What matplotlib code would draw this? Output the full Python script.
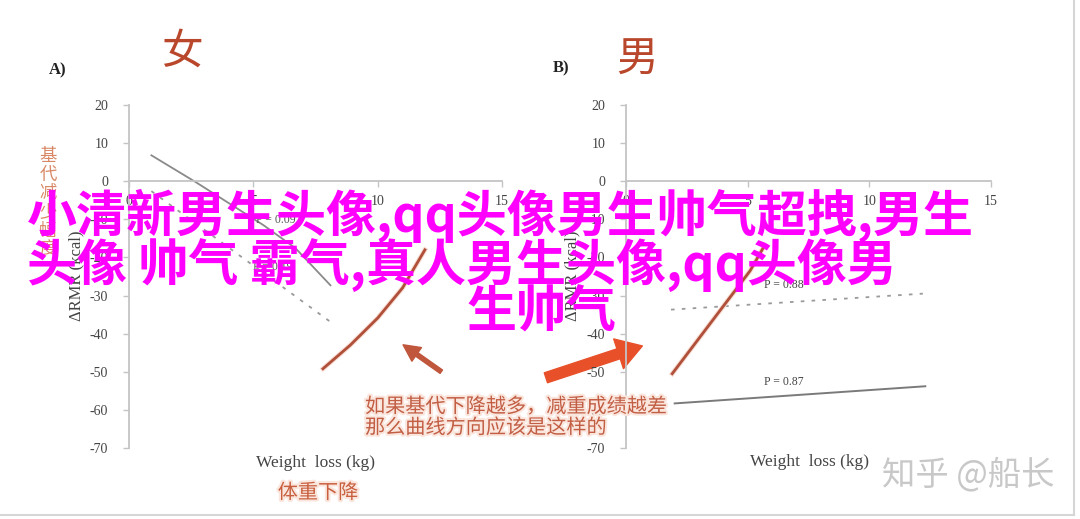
import matplotlib
matplotlib.use("Agg")
import matplotlib.pyplot as plt
from matplotlib.patches import FancyArrowPatch
from matplotlib.lines import Line2D
import matplotlib.patheffects as pe

# ---------------- data ----------------
x_ticks = [0, 5, 10, 15]
x_tick_labels = ["0", "5", "10", "15"]
y_ticks = [20, 10, 0, -10, -20, -30, -40, -50, -60, -70]
y_tick_labels = ["20", "10", "0", "-10", "-20", "-30", "-40", "-50", "-60", "-70"]

a_solid_x = [0.9, 2.7, 5.4, 6.7, 8.1]
a_solid_y = [6.8, -0.3, -11.5, -17.6, -27.3]
a_dot_x = [0.9, 8.1]
a_dot_y = [-2.6, -36.9]
a_red_x = [7.8, 8.9, 10.0, 11.0, 11.9]
a_red_y = [-49.2, -43.0, -35.9, -28.0, -18.0]

b_dot_x = [1.85, 12.2]
b_dot_y = [-33.7, -29.5]
b_solid_x = [2.0, 12.3]
b_solid_y = [-58.3, -53.8]
b_red_x = [1.9, 5.1, 5.7]
b_red_y = [-50.5, -23.5, -16.8]

a_p_labels = ["P = 0.09", "P = 0.19"]
a_p_pos = [(5.9, -10.2), (5.8, -22.6)]
b_p_labels = ["P = 0.88", "P = 0.87"]
b_p_pos = [(6.5, -27.3), (6.5, -52.7)]

panel_labels = ["A)", "B)"]
panel_titles = ["女", "男"]
x_label = "Weight  loss (kg)"
y_label = "ΔRMR (kcal)"
vertical_note = "基代减少幅度"
x_note = "体重下降"
note_lines = ["如果基代下降越多，减重成绩越差", "那么曲线方向应该是这样的"]
overlay_lines = ["小清新男生头像,qq头像男生帅气超拽,男生",
                 "头像 帅气 霸气,真人男生头像,qq头像男",
                 "生帅气"]
watermark = "知乎 @船长"

# ---------------- figure ----------------
W, H = 1080, 519
fig = plt.figure(figsize=(W / 100, H / 100), dpi=100)
fig.patch.set_facecolor("white")

CJK = ["Noto Sans CJK SC", "DejaVu Sans"]
SERIF = ["Liberation Serif", "DejaVu Serif"]


def fx(px):
    return px / W


def fy(py):
    return 1 - py / H


def make_axes(x0, x1):
    ax = fig.add_axes([fx(x0), fy(448), fx(x1) - fx(x0), (448 - 105) / H])
    ax.set_xlim(0, 15)
    ax.set_ylim(-70, 20)
    for s in ["top", "right"]:
        ax.spines[s].set_visible(False)
    ax.spines["left"].set_position(("data", 0))
    ax.spines["bottom"].set_position(("data", 0))
    for s in ["left", "bottom"]:
        ax.spines[s].set_color("#c4c4c4")
        ax.spines[s].set_linewidth(1.3)
    ax.set_xticks(x_ticks)
    ax.set_xticklabels(x_tick_labels, family=SERIF, fontsize=10, color="#444444")
    ax.set_yticks(y_ticks)
    ax.set_yticklabels(y_tick_labels, family=SERIF, fontsize=10, color="#444444")
    ax.tick_params(axis="both", direction="out", length=4, color="#c4c4c4", width=1)
    ax.tick_params(axis="x", pad=6)
    ax.tick_params(axis="y", pad=11)
    ax.patch.set_alpha(0)
    return ax


axA = make_axes(129, 502)
axB = make_axes(626, 991)

glow = [pe.withStroke(linewidth=3.5, foreground="#f8ddd3")]

# panel A lines
axA.plot(a_solid_x, a_solid_y, color="#8a8a8a", lw=1.3)
axA.plot(a_dot_x, a_dot_y, color="#9a9a9a", lw=1.3, ls=(0, (2, 4)))
axA.plot(a_red_x, a_red_y, color="#b0503a", lw=2.0, path_effects=glow,
         solid_joinstyle="round")
for lab, (px, py) in zip(a_p_labels, a_p_pos):
    axA.text(px, py, lab, family=SERIF, fontsize=8.5, color="#555555",
             ha="center", va="center")

# panel B lines
axB.plot(b_dot_x, b_dot_y, color="#9a9a9a", lw=1.3, ls=(0, (2, 4)))
axB.plot(b_solid_x, b_solid_y, color="#7a7a7a", lw=1.4)
axB.plot(b_red_x, b_red_y, color="#b0503a", lw=2.0, path_effects=glow)
for lab, (px, py) in zip(b_p_labels, b_p_pos):
    axB.text(px, py, lab, family=SERIF, fontsize=8.5, color="#444444",
             ha="center", va="center")

# arrows
arrA = FancyArrowPatch((12.65, -50.4), (10.93, -42.5), transform=axA.transData,
                       arrowstyle="simple,head_length=1.0,head_width=1.0,tail_width=0.25",
                       mutation_scale=12, color="#c0563c", clip_on=False)
axA.add_patch(arrA)
arrB = FancyArrowPatch((-3.4, -51.8), (0.78, -43.0), transform=axB.transData,
                       arrowstyle="simple,head_length=1.2,head_width=1.5,tail_width=0.5",
                       mutation_scale=15, color="#e8502a", clip_on=False)
axB.add_patch(arrB)

# panel labels and titles
fig.text(fx(58), fy(70), panel_labels[0], family=SERIF, fontsize=12, weight="bold",
         color="#222222", ha="center", va="center")
fig.text(fx(561), fy(68), panel_labels[1], family=SERIF, fontsize=12, weight="bold",
         color="#222222", ha="center", va="center")
fig.text(fx(182), fy(52), panel_titles[0], family=CJK, fontsize=30, color="#b9472c",
         ha="center", va="center")
fig.text(fx(637), fy(60), panel_titles[1], family=CJK, fontsize=30, color="#b9472c",
         ha="center", va="center")

# axis labels
fig.text(fx(316), fy(463), x_label, family=SERIF, fontsize=12.5, color="#444444",
         ha="center", va="center")
fig.text(fx(809), fy(462), x_label, family=SERIF, fontsize=12.5, color="#444444",
         ha="center", va="center")
fig.text(fx(76), fy(276), y_label, family=SERIF, fontsize=12, color="#444444",
         ha="center", va="center", rotation=90)
fig.text(fx(572), fy(276), y_label, family=SERIF, fontsize=12, color="#444444",
         ha="center", va="center", rotation=90)

# orange notes (vertical text as one stacked label)
fig.text(fx(48), fy(147), "\n".join(vertical_note), family=CJK, fontsize=12.5,
         color="#d98866", ha="center", va="top", linespacing=1.05)
fig.text(fx(318), fy(493), x_note, family=CJK, fontsize=14.5, color="#c8603f",
         ha="center", va="center", path_effects=[pe.withStroke(linewidth=3, foreground="#fbe6de")])
fig.text(fx(365), fy(407), note_lines[0], family=CJK, fontsize=14.5, color="#c25e44",
         ha="left", va="center", path_effects=[pe.withStroke(linewidth=3, foreground="#fbe6de")])
fig.text(fx(365), fy(428), note_lines[1], family=CJK, fontsize=14.5, color="#c25e44",
         ha="left", va="center", path_effects=[pe.withStroke(linewidth=3, foreground="#fbe6de")])

# watermark
fig.text(fx(968), fy(475), watermark, family=CJK, fontsize=24, color="#c8c8c8",
         ha="center", va="center")

# magenta overlay
fig.text(fx(27), fy(216), overlay_lines[0], family=CJK, fontsize=36, weight="bold",
         color="#ff00ff", ha="left", va="center")
fig.text(fx(27), fy(265), overlay_lines[1], family=CJK, fontsize=36, weight="bold",
         color="#ff00ff", ha="left", va="center")
fig.text(fx(541), fy(313), overlay_lines[2], family=CJK, fontsize=36, weight="bold",
         color="#ff00ff", ha="center", va="center")

# frame border
fig.add_artist(Line2D([fx(1074), fx(1074)], [fy(515), 1], color="#d6d6d6", lw=1.5))
fig.add_artist(Line2D([0, fx(1074)], [fy(515), fy(515)], color="#d6d6d6", lw=1.5))

fig.savefig("out.png", dpi=100, facecolor="white")
